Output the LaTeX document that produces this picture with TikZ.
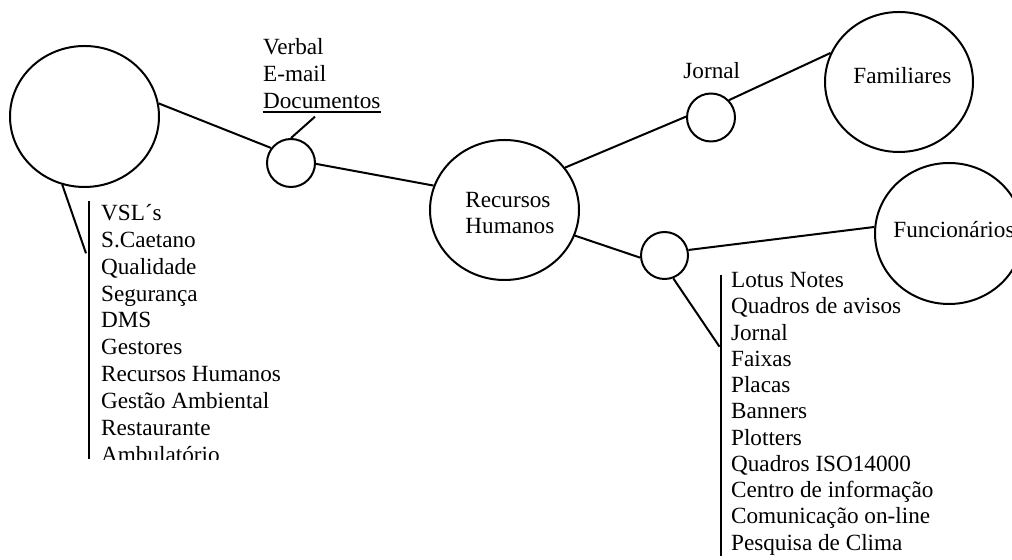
\documentclass[tikz,border=0pt]{standalone}
\usepackage{fontspec}
\setmainfont{Liberation Serif}
\usetikzlibrary{shapes.geometric}
\begin{document}
\begin{tikzpicture}[x=0.5pt,y=-0.5pt,
  link/.style={line width=1pt},
  bigc/.style={draw, ellipse, line width=1pt, inner sep=0pt,
    minimum width=74.5pt, minimum height=70.5pt},
  smallc/.style={draw, circle, line width=1pt, inner sep=0pt, minimum size=24pt},
  txt/.style={inner sep=0pt, font=\fontsize{11.6pt}{13pt}\selectfont, anchor=base west},
]
\useasboundingbox (0,0) rectangle (1012,560);
\clip (0,0) rectangle (1012,560);

% circles
\node[bigc] (src) at (84.5,116.5) {};
\node[smallc] (hub1) at (291,163) {};
\node[bigc, minimum height=70pt] (rh) at (504.5,210) {};
\node[smallc] (hub2) at (711,117.5) {};
\node[bigc, minimum width=74pt, minimum height=70pt] (fam) at (899,82) {};
\node[smallc, minimum size=23.5pt] (hub3) at (664.5,255.5) {};
\node[bigc, minimum width=74pt] (func) at (949,233.5) {};

% circle labels
\node[txt] (rh1) at (465,207.7) {Recursos};
\node[txt] (rh2) at (465,234) {Humanos};
\node[txt] (famt) at (853,83.3) {Familiares};
\node[txt] (funct) at (893,237.3) {Funcionários};
\node[txt] (jorn) at (683,78.3) {Jornal};

% channels of the first hub
\node[txt] (verb) at (262.7,54.5) {Verbal};
\node[txt] (mail) at (262.7,81.3) {E-mail};
\node[txt] (doc) at (262.7,108.1) {Documentos};
\draw[link] ([yshift=-2.2pt]doc.base west) -- ([yshift=-2.2pt]doc.base east);
\coordinate (doctip) at (315,116.7);

% list bars
\coordinate (lbarT) at (89,201);
\coordinate (lbarB) at (89,459);
\coordinate (lbarM) at (86,253.3);
\coordinate (rbarT) at (721,275);
\coordinate (rbarB) at (721,556);
\coordinate (rbarM) at (719.5,346.7);
\draw[link] (lbarT) -- (lbarB);
\draw[link] (rbarT) -- (rbarB);

% connectors
\draw[link] (src.10) -- (hub1.143);
\draw[link] (hub1.90) -- (doctip);
\draw[link] (hub1.-2) -- (rh.161);
\draw[link] (rh.35) -- (hub2.178);
\draw[link] (hub2.44) -- (fam.157);
\draw[link] (rh.-20) -- (hub3.185);
\draw[link] (hub3.13) -- (func.175);
\draw[link] (hub3.-69) -- (rbarM);
\draw[link] (src.-108.8) -- (lbarM);

% left list (cut off at the bottom of its box)
\begin{scope}
  \clip (95,190) rectangle (400,459.5);
  \foreach \t [count=\i from 0] in {VSL´s,S.Caetano,Qualidade,Segurança,DMS,Gestores,Recursos Humanos,Gestão Ambiental,Restaurante,Ambulatório}
    \node[txt] (left\i) at (100.7,{220.5+26.85*\i}) {\t};
\end{scope}

% right list
\foreach \t [count=\i from 0] in {Lotus Notes,Quadros de avisos,Jornal,Faixas,Placas,Banners,Plotters,Quadros ISO14000,Centro de informação,Comunicação on-line,Pesquisa de Clima}
  \node[txt] (right\i) at (730.7,{287.7+26.25*\i}) {\t};
\end{tikzpicture}
\end{document}
